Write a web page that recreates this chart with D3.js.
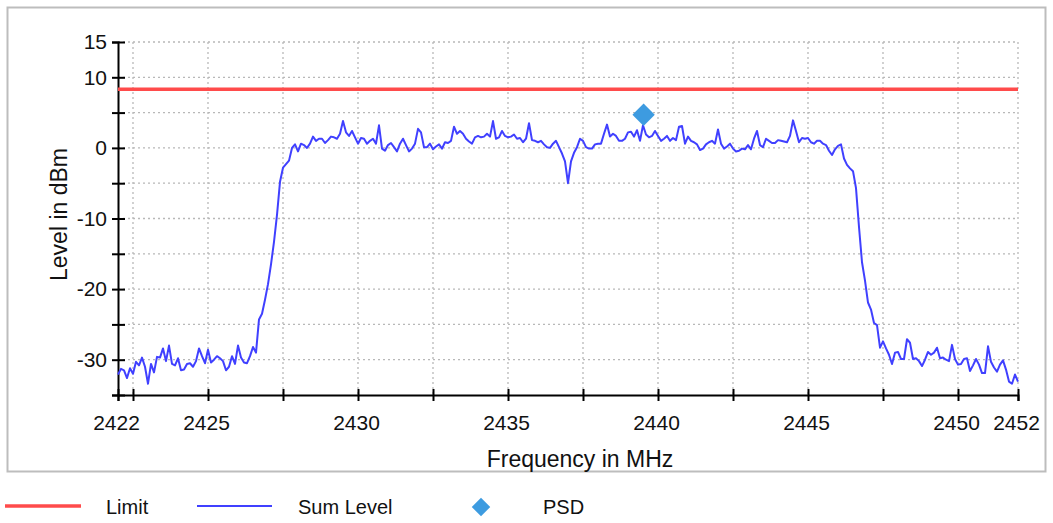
<!DOCTYPE html>
<html>
<head>
<meta charset="utf-8">
<script src="https://cdn.jsdelivr.net/npm/d3@7"></script>
<style>
  body { margin: 0; background: #fff; }
  .tickfont { font-family: "Liberation Sans Narrow", "Liberation Sans", Arial, sans-serif; font-size: 21px; }
  .title { font-family: "Liberation Sans", Arial, sans-serif; font-size: 23px; fill: #111; }
  .legend text { font-family: "Liberation Sans", Arial, sans-serif; font-size: 20px; fill: #111; }
</style>
</head>
<body>
<svg id="main" width="1053" height="523"></svg>
<script>
// sweep grid of the trace (MHz)
var sweepStart = 2422, sweepStep = 0.1;

// Sum Level trace, dBm, one value per 0.1 MHz from 2422.0 to 2452.0
var sumLevel = [
  -32.1, -31.3, -31.5, -32.6, -31.2, -32.0, -30.3, -30.8, -29.7, -31.0,
  -33.4, -30.6, -31.8, -29.6, -29.7, -28.4, -30.2, -28.0, -30.6, -30.8,
  -29.8, -31.5, -31.4, -30.6, -30.5, -31.0, -30.2, -28.4, -29.5, -30.5,
  -28.6, -30.4, -30.0, -29.5, -29.8, -30.2, -31.5, -31.0, -29.5, -30.6,
  -28.0, -29.7, -30.4, -30.5, -29.5, -28.2, -29.0, -24.3, -23.5, -21.5,
  -19.3, -16.5, -13.3, -9.5, -4.8, -2.8, -2.3, -1.8, 0.0, 0.5,
  -0.5, 0.6, 0.4, 0.0, 0.6, 1.6, 1.0, 1.3, 1.3, 0.7,
  1.1, 1.6, 1.5, 1.3, 2.0, 3.8, 2.2, 1.7, 2.4, 1.5,
  0.6, 1.4, 1.3, 0.6, 1.0, 1.3, 0.6, 3.2, -0.1, -0.4,
  0.4, 0.7, 0.1, -0.5, 0.6, 1.3, 0.4, -0.5, -0.1, 0.6,
  2.7, 2.2, 0.1, 0.1, 0.6, -0.2, 0.2, 0.5, -0.1, 0.8,
  0.7, 1.0, 3.0, 2.0, 2.4, 2.0, 1.3, 0.9, 0.6, 1.5,
  1.7, 1.5, 1.6, 2.0, 1.6, 3.8, 1.3, 1.5, 2.4, 1.7,
  1.5, 1.6, 1.9, 1.3, 1.4, 0.8, 1.3, 3.5, 1.1, 1.0,
  0.8, 1.0, 0.5, 0.1, 0.0, 0.6, 1.0, 0.1, -0.8, -1.9,
  -5.0, -1.9, -0.7, 0.1, 1.3, 1.0, 0.1, -0.1, -0.1, 0.5,
  0.6, 0.6, 2.0, 3.3, 1.6, 2.0, 1.7, 1.0, 1.0, 1.3,
  2.2, 2.3, 1.6, 2.5, 1.0, 3.2, 1.9, 1.5, 1.7, 2.4,
  1.7, 1.0, 1.3, 1.7, 1.0, 1.4, 1.1, 3.0, 3.1, 0.6,
  1.6, 1.0, 0.8, 0.5, -0.3, -0.1, 0.5, 0.8, 1.0, 0.6,
  2.6, 0.6, -0.1, 0.2, 0.6, -0.1, -0.5, -0.4, -0.1, -0.2,
  0.4, -0.2, 1.3, 2.4, 0.4, 0.1, 1.3, 1.0, 0.7, 0.7,
  1.1, 1.0, 0.9, 0.8, 1.7, 3.9, 2.4, 0.8, 1.4, 1.3,
  1.4, 0.8, 0.6, 1.0, 1.0, 0.6, 0.4, -0.4, -1.0, -0.2,
  0.3, 0.5, -1.5, -2.4, -2.9, -3.3, -5.7, -11.2, -16.2, -18.8,
  -21.9, -22.9, -24.8, -25.1, -28.3, -27.4, -28.4, -29.3, -30.6, -29.0,
  -28.9, -29.9, -29.9, -27.1, -27.6, -29.9, -29.8, -30.2, -30.9, -30.0,
  -28.9, -29.3, -29.0, -28.3, -29.8, -29.7, -30.0, -30.2, -27.9, -29.9,
  -30.7, -30.6, -29.9, -29.8, -31.6, -30.8, -29.9, -30.7, -31.9, -31.9,
  -28.1, -30.3, -31.1, -31.7, -30.7, -30.1, -31.4, -33.1, -33.4, -32.1,
  -33.1
];

var limitLevel = 8.3;
var psdPoint = [{freq: 2439.52, level: 4.7}];

var xTicks = [2422, 2422.5, 2425, 2427.5, 2430, 2432.5, 2435, 2437.5, 2440, 2442.5, 2445, 2447.5, 2450, 2452];
var xLabels = [2422, 2425, 2430, 2435, 2440, 2445, 2450, 2452];
var xGrid = [2422.5, 2425, 2427.5, 2430, 2432.5, 2435, 2437.5, 2440, 2442.5, 2445, 2447.5, 2450, 2452];
var yTicks = [-35, -30, -25, -20, -15, -10, -5, 0, 5, 10, 15];
var yLabels = [-30, -20, -10, 0, 10, 15];
var yGrid = [-30, -25, -20, -15, -10, -5, 0, 5, 10, 15];

var legendItems = ["Limit", "Sum Level", "PSD"];

var margin = {top: 42, right: 35, bottom: 128, left: 118};
var svg = d3.select("#main"),
    width = +svg.attr("width") - margin.left - margin.right,
    height = +svg.attr("height") - margin.top - margin.bottom;

// frame
svg.append("rect")
    .attr("x", 7.5).attr("y", 7.5)
    .attr("width", 1038).attr("height", 464)
    .attr("fill", "#fff")
    .attr("stroke", "#bdbdbd")
    .attr("stroke-width", 2);

var xScale = d3.scaleLinear().domain([2422, 2452]).range([0, width]),
    yScale = d3.scaleLinear().domain([-35, 15]).range([height, 0]),
    g = svg.append("g")
        .attr("transform", "translate(" + margin.left + "," + margin.top + ")");

// grid
g.append("g").selectAll("line")
    .data(xGrid).enter().append("line")
    .attr("x1", function(d) { return xScale(d); })
    .attr("x2", function(d) { return xScale(d); })
    .attr("y1", 0).attr("y2", height)
    .attr("stroke", "#b8b8b8").attr("stroke-width", 1.3)
    .attr("stroke-dasharray", "2,3");

g.append("g").selectAll("line")
    .data(yGrid).enter().append("line")
    .attr("x1", 0).attr("x2", width)
    .attr("y1", function(d) { return yScale(d); })
    .attr("y2", function(d) { return yScale(d); })
    .attr("stroke", "#b8b8b8").attr("stroke-width", 1.3)
    .attr("stroke-dasharray", "2,3");

// axes
var xAxis = g.append("g")
    .attr("class", "axis xAxis tickfont")
    .attr("transform", "translate(0," + height + ")")
    .call(d3.axisBottom(xScale)
        .tickValues(xTicks)
        .tickFormat(function(d) { return xLabels.indexOf(d) >= 0 ? d : ""; })
        .tickSize(6)
        .tickPadding(14));

var yAxis = g.append("g")
    .attr("class", "axis yAxis tickfont")
    .call(d3.axisLeft(yScale)
        .tickValues(yTicks)
        .tickFormat(function(d) { return yLabels.indexOf(d) >= 0 ? d : ""; })
        .tickSize(6)
        .tickPadding(5));

g.selectAll(".axis .domain").attr("stroke", "#000").attr("stroke-width", 2);
g.selectAll(".axis .tick line").attr("stroke", "#000").attr("stroke-width", 2);
xAxis.selectAll(".tick line").attr("y1", -6);
yAxis.selectAll(".tick line").attr("x1", 7);
g.selectAll(".axis text").attr("fill", "#111");
g.selectAll(".axis").attr("font-family", null).attr("font-size", null);
xAxis.selectAll(".tick text").attr("dx", "-2");

// axis titles
svg.append("text")
    .attr("class", "title")
    .attr("transform", "translate(67," + (margin.top + height / 2 - 4) + ") rotate(-90)")
    .attr("text-anchor", "middle")
    .text("Level in dBm");

svg.append("text")
    .attr("class", "title")
    .attr("x", 580).attr("y", 467)
    .attr("text-anchor", "middle")
    .text("Frequency in MHz");

// limit
g.append("line")
    .attr("x1", 0).attr("x2", width)
    .attr("y1", yScale(limitLevel)).attr("y2", yScale(limitLevel))
    .attr("stroke", "#ff4b4b").attr("stroke-width", 3.5);

// trace
var line = d3.line()
    .x(function(d, i) { return xScale(sweepStart + i * sweepStep); })
    .y(function(d) { return yScale(d); });

g.append("path")
    .attr("d", line(sumLevel))
    .attr("fill", "none")
    .attr("stroke", "#4040ff")
    .attr("stroke-width", 2)
    .attr("stroke-linejoin", "round");

// PSD marker (square turned 45 degrees)
g.selectAll(".psd")
    .data(psdPoint).enter().append("path")
    .attr("class", "psd")
    .attr("transform", function(d) { return "translate(" + xScale(d.freq) + "," + yScale(d.level) + ") rotate(45)"; })
    .attr("d", d3.symbol().type(d3.symbolSquare).size(250))
    .attr("fill", "#3d9be0");

// legend
var lg = svg.append("g").attr("class", "legend");
lg.append("line").attr("x1", 5).attr("x2", 81).attr("y1", 506).attr("y2", 506)
    .attr("stroke", "#ff4b4b").attr("stroke-width", 3.5);
lg.append("line").attr("x1", 197).attr("x2", 272).attr("y1", 506).attr("y2", 506)
    .attr("stroke", "#4040ff").attr("stroke-width", 1.8);
lg.append("path").attr("transform", "translate(481,507) rotate(45)")
    .attr("d", d3.symbol().type(d3.symbolSquare).size(170))
    .attr("fill", "#3d9be0");
lg.selectAll("text").data(legendItems).enter().append("text")
    .attr("x", function(d, i) { return [106, 298, 543][i]; })
    .attr("y", 514)
    .text(function(d) { return d; });
</script>
</body>
</html>
